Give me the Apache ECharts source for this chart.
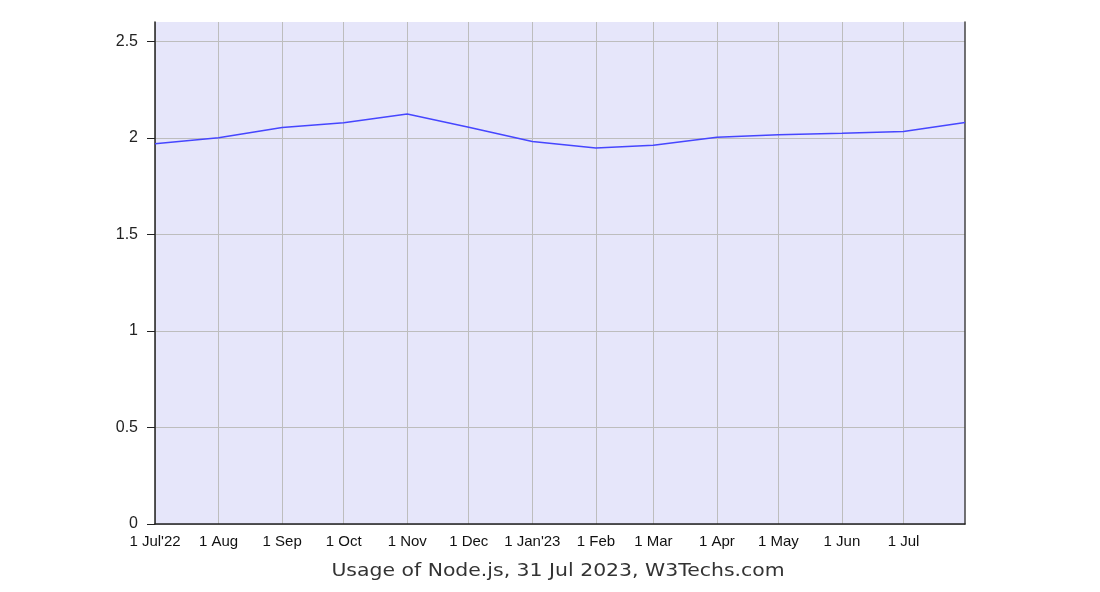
<!DOCTYPE html>
<html><head><meta charset="utf-8">
<script src="https://cdn.jsdelivr.net/npm/echarts@6/dist/echarts.min.js"></script>
<style>html,body{margin:0;padding:0;background:#fff}#c{width:1100px;height:592px}</style>
</head><body><div id="c"></div>
<script>
const dates = ['2022-07-01','2022-08-01','2022-09-01','2022-10-01','2022-11-01','2022-12-01','2023-01-01','2023-02-01','2023-03-01','2023-04-01','2023-05-01','2023-06-01','2023-07-01','2023-07-31'];
const usage = [1.969,2.000,2.053,2.078,2.124,2.055,1.981,1.947,1.962,2.003,2.016,2.024,2.033,2.079];
const tickDates = ['2022-07-01','2022-08-01','2022-09-01','2022-10-01','2022-11-01','2022-12-01','2023-01-01','2023-02-01','2023-03-01','2023-04-01','2023-05-01','2023-06-01','2023-07-01'];
const tickLabels = ["1 Jul'22",'1 Aug','1 Sep','1 Oct','1 Nov','1 Dec',"1 Jan'23",'1 Feb','1 Mar','1 Apr','1 May','1 Jun','1 Jul'];
const yTicks = [0,0.5,1,1.5,2,2.5];
const titleText = 'Usage of Node.js, 31 Jul 2023, W3Techs.com';

const ts = d => Date.parse(d + 'T00:00:00Z');
const tickTs = tickDates.map(ts);
const labelMap = {};
tickTs.forEach((t,i)=>{labelMap[t]=tickLabels[i];});

const chart = echarts.init(document.getElementById('c'), null, {renderer:'canvas'});
chart.setOption({
  animation:false,
  graphic:[{type:'text',x:558,y:572,scaleX:1.2,
    style:{text:titleText,textAlign:'center',textVerticalAlign:'middle',
      font:'17px "DejaVu Sans"',fill:'#333'}}],
  grid:{left:155,right:135,top:22,bottom:68,show:true,backgroundColor:'#e6e6fa',borderWidth:0},
  xAxis:{type:'value',min:ts('2022-07-01'),max:ts('2023-07-31'),scale:true,
    axisLine:{show:true,lineStyle:{color:'#222',width:1.5}},
    axisTick:{show:false,customValues:tickTs},
    axisLabel:{customValues:tickTs,formatter:v=>labelMap[v]||'',color:'#111',
      fontFamily:'Liberation Sans',fontSize:15,margin:10,letterSpacing:-0.4},
    splitLine:{show:true,lineStyle:{color:'#bdbdbd',width:1}}},
  yAxis:[{type:'value',min:0,max:2.6,
    axisLine:{show:true,lineStyle:{color:'#222',width:1.5}},
    axisTick:{show:true,length:8,lineStyle:{color:'#222'},customValues:yTicks},
    axisLabel:{customValues:yTicks,color:'#222',fontFamily:'Liberation Sans',fontSize:16,margin:17},
    splitLine:{show:true,lineStyle:{color:'#bdbdbd',width:1}}},
    {type:'value',min:0,max:2.6,position:'right',
    axisLine:{show:true,lineStyle:{color:'#444',width:1.5}},
    axisTick:{show:false},axisLabel:{show:false},splitLine:{show:false}}],
  series:[{type:'line',data:dates.map((d,i)=>[ts(d),usage[i]]),
    showSymbol:false,symbol:'none',lineStyle:{color:'#4646ff',width:1.5}}]
});
</script></body></html>
